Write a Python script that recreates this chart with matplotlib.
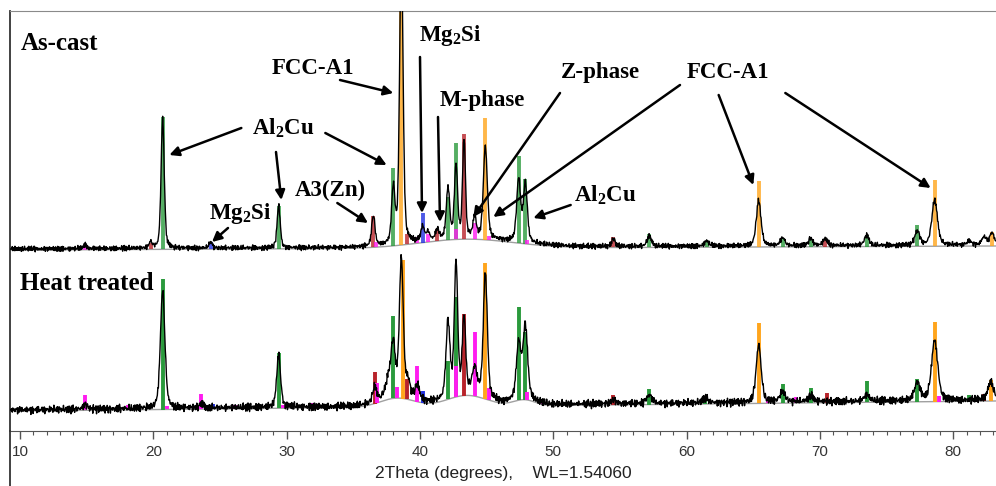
import numpy as np
import matplotlib.pyplot as plt
from matplotlib.ticker import MultipleLocator
from matplotlib.lines import Line2D

plt.rcParams['mathtext.fontset'] = 'custom'
plt.rcParams['mathtext.rm'] = 'Liberation Serif:bold'
plt.rcParams['mathtext.bf'] = 'Liberation Serif:bold'
plt.rcParams['mathtext.it'] = 'Liberation Serif:bold'

# --- as-cast scan: background and fitted reflections (intensity in plot units) ---
cast_base = [181, 185]
cast_hump_pos = [43.5]
cast_hump_h = [9]
cast_hump_w = [3.5]

cast_pos = [14.9, 19.8, 20.7, 24.3, 29.4, 36.5, 38.0, 38.6, 40.2, 40.6, 41.3,
            42.1, 42.7, 43.3, 44.1, 44.9, 47.4, 47.9, 54.5, 57.2, 61.5, 65.4,
            67.2, 69.3, 70.4, 73.5, 77.3, 78.6, 81.2, 82.3, 82.9]
cast_height = [4, 6, 130, 6, 42, 30, 55, 300, 14, 8, 10,
               50, 72, 98, 20, 92, 62, 58, 8, 10, 5, 45,
               8, 7, 7, 10, 14, 45, 4, 8, 12]
cast_fwhm = [0.3, 0.3, 0.28, 0.3, 0.28, 0.3, 0.3, 0.3, 0.3, 0.3, 0.3,
             0.3, 0.28, 0.25, 0.3, 0.35, 0.35, 0.35, 0.3, 0.4, 0.4, 0.42,
             0.4, 0.4, 0.4, 0.4, 0.45, 0.5, 0.4, 0.4, 0.4]

# --- heat treated scan ---
heat_base = [20, 30]
heat_hump_pos = [38.3, 43.5, 47.8]
heat_hump_h = [9, 11, 6]
heat_hump_w = [1.3, 1.5, 0.8]

heat_pos = [14.9, 20.7, 23.6, 29.4, 36.6, 37.7, 38.0, 38.6, 39.1, 39.8, 42.1,
            42.7, 43.3, 44.1, 44.9, 47.4, 47.9, 54.5, 57.2, 61.4, 65.4, 67.2,
            69.3, 73.5, 77.3, 78.6, 82.8]
heat_height = [5, 118, 4, 52, 15, 20, 45, 137, 15, 14, 75,
               132, 75, 25, 125, 55, 72, 4, 8, 5, 57, 10,
               6, 6, 18, 60, 18]
heat_fwhm = [0.4, 0.4, 0.4, 0.35, 0.35, 0.6, 0.35, 0.35, 0.35, 0.4, 0.35,
             0.3, 0.3, 0.45, 0.35, 0.4, 0.4, 0.4, 0.5, 0.5, 0.45, 0.5,
             0.5, 0.5, 0.5, 0.55, 0.5]

# --- reference stick patterns (g: Al2Cu, o: FCC-A1, r/b/m: minor phases) ---
cast_stick_pos = [38.6, 43.3, 20.7, 44.9, 42.7, 47.4, 38.0, 65.4, 78.6, 47.9,
                  29.4, 42.1, 36.5, 40.2, 77.3, 44.1, 82.9, 57.2, 73.5, 41.3,
                  39.0, 54.5, 42.7, 67.2, 69.3, 40.6, 70.4, 24.3, 19.8, 39.8,
                  61.5, 14.9, 36.7, 45.2, 48.0, 26.0]
cast_stick_h = [300, 105, 132, 122, 96, 87, 78, 66, 66, 65,
                43, 43, 31, 30, 21, 16, 14, 13, 12, 12,
                10, 10, 10, 9, 8, 8, 7, 7, 6, 6,
                6, 5, 5, 4, 4, 2]
cast_stick_c = ['o', 'r', 'g', 'o', 'g', 'g', 'g', 'o', 'o', 'g',
                'g', 'g', 'r', 'b', 'g', 'm', 'o', 'g', 'g', 'r',
                'r', 'r', 'm', 'g', 'g', 'm', 'r', 'b', 'r', 'm',
                'g', 'm', 'm', 'm', 'm', 'm']

heat_stick_pos = [38.75, 44.9, 20.7, 42.7, 47.4, 38.0, 43.3, 65.4, 78.6, 47.9,
                  44.1, 29.4, 42.1, 39.8, 36.6, 42.7, 77.3, 73.5, 82.8, 39.0,
                  36.8, 67.2, 57.2, 14.9, 23.6, 69.3, 45.2, 40.2, 38.3, 54.5,
                  70.5, 48.0, 61.4, 82.3, 81.2, 68.2, 78.9, 18.1, 24.5, 66.1,
                  32.0, 26.1, 49.2, 21.0, 29.7, 27.8, 10.8]
heat_stick_h = [139, 136, 131, 100, 93, 82, 82, 80, 80, 68,
                64, 55, 38, 36, 32, 31, 23, 21, 21, 20,
                20, 19, 16, 15, 15, 15, 12, 12, 11, 10,
                10, 8, 8, 7, 6, 6, 6, 5, 5, 5,
                5, 4, 4, 3, 3, 3, 2]
heat_stick_c = ['o', 'o', 'g', 'g', 'g', 'g', 'r', 'o', 'o', 'g',
                'm', 'g', 'g', 'm', 'r', 'm', 'g', 'g', 'o', 'r',
                'm', 'g', 'g', 'm', 'm', 'g', 'm', 'b', 'm', 'r',
                'r', 'm', 'g', 'r', 'g', 'm', 'm', 'm', 'b', 'm',
                'm', 'm', 'm', 'm', 'm', 'b', 'm']

stick_colors = {'g': '#2a9a3c', 'o': '#ffa51c', 'r': '#b8232a',
                'b': '#2030e0', 'm': '#ff1cf0'}

# counting-statistics scatter on the detector signal
jitter_a = [0.3, -0.8, 0.5, 1.0, -0.2, -1.0, 0.7, -0.4, 0.9, -0.6, 0.1, 0.8,
            -0.9, 0.4, -0.3, 0.6, -0.7, 1.0, -0.5, 0.2, -1.0, 0.5, 0.8, -0.3,
            -0.8, 0.3, 0.9, -0.1, -0.6, 0.7, -0.9, 0.2, 0.6, -0.4, 1.0, -0.7,
            0.0, 0.4, -0.5, 0.8, -0.2]
jitter_b = [-0.5, 0.9, -0.2, 0.4, -1.0, 0.6, 0.1, -0.7, 0.8, -0.3, 1.0, -0.9,
            0.2, 0.5, -0.6, 0.7, -0.1, -0.8, 0.3, 0.9, -0.4, 0.0, 0.6, -1.0,
            0.4, -0.2, 0.8, -0.6, 0.1]


def background(x, base, hpos, hh, hw):
    y = base[0] + (base[1] - base[0]) * (x - 10) / 73.0
    for c, a, s in zip(hpos, hh, hw):
        y = y + a * np.exp(-0.5 * ((x - c) / s) ** 2)
    return y


def peaks(x, pos, h, w):
    y = np.zeros_like(x)
    for c, a, f in zip(pos, h, w):
        d = (x - c) / f
        y += a * (0.6 * np.exp(-4 * np.log(2) * d ** 2) + 0.4 / (1 + 4 * d ** 2))
    return y


tt = np.arange(9.3, 83.2, 0.04)
n = len(tt)
scatter = 0.6 * np.resize(jitter_a, n) + 0.4 * np.resize(jitter_b, n)

cast_bg = background(tt, cast_base, cast_hump_pos, cast_hump_h, cast_hump_w)
heat_bg = background(tt, heat_base, heat_hump_pos, heat_hump_h, heat_hump_w)
cast_trace = cast_bg + 1 + peaks(tt, cast_pos, cast_height, cast_fwhm) + 3.2 * scatter
heat_trace = heat_bg + 1 + peaks(tt, heat_pos, heat_height, heat_fwhm) + 4.8 * scatter[::-1]

fig = plt.figure(figsize=(9.96, 4.86), dpi=100)
ax = fig.add_axes([10 / 996, 55 / 486, 986 / 996, 420 / 486])

for spos, sh, sc, base, hp, hh, hw, alpha in [
        (cast_stick_pos, cast_stick_h, cast_stick_c, cast_base, cast_hump_pos, cast_hump_h, cast_hump_w, 0.8),
        (heat_stick_pos, heat_stick_h, heat_stick_c, heat_base, heat_hump_pos, heat_hump_h, heat_hump_w, 1.0)]:
    spos = np.array(spos)
    y0 = background(spos, base, hp, hh, hw)
    ax.vlines(spos, y0, y0 + np.array(sh), colors=[stick_colors[c] for c in sc],
              linewidth=2.8, alpha=alpha, zorder=2)

ax.plot(tt, cast_bg, color='#a0a0a0', lw=1.0, zorder=1)
ax.plot(tt, heat_bg, color='#a0a0a0', lw=1.0, zorder=1)
ax.plot(tt, cast_trace, color='black', lw=1.0, zorder=3)
ax.plot(tt, heat_trace, color='black', lw=1.0, zorder=3)

ax.set_xlim(9.25, 83.2)
ax.set_ylim(0, 420)
ax.set_yticks([])
ax.xaxis.set_major_locator(MultipleLocator(10))
ax.xaxis.set_minor_locator(MultipleLocator(1))
ax.tick_params(axis='x', which='major', length=6, width=1.0, color='#555555',
               labelsize=11, labelcolor='#333333', pad=4)
ax.tick_params(axis='x', which='minor', length=3, width=0.8, color='#555555')
for lab in ax.get_xticklabels():
    lab.set_fontfamily('Liberation Sans')
ax.set_xlabel('2Theta (degrees),    WL=1.54060', fontfamily='Liberation Sans',
              fontsize=12.5, color='#222222', labelpad=5)

ax.spines['right'].set_visible(False)
ax.spines['top'].set_color('#8a8a8a')
ax.spines['bottom'].set_color('#555555')
ax.spines['left'].set_color('#333333')
ax.spines['left'].set_linewidth(1.3)
fig.add_artist(Line2D([10 / 996, 10 / 996], [0, 55 / 486], transform=fig.transFigure,
                      color='#333333', lw=1.3))

serif = dict(fontfamily='Liberation Serif', fontweight='bold', color='black')
ax.text(10.05, 388, 'As-cast', fontsize=18, ha='left', va='center', **serif)
ax.text(10.0, 148, 'Heat treated', fontsize=18, ha='left', va='center', **serif)

arrow = dict(arrowstyle='-|>', color='black', lw=1.8, mutation_scale=14,
             shrinkA=0, shrinkB=0)

labels = [
    ('FCC-A1', (32.0, 363), [((34.0, 351), (38.0, 338))]),
    (r'Mg$_2$Si', (42.3, 396), [((40.0, 374), (40.15, 218))]),
    ('M-phase', (44.7, 331), [((41.35, 314), (41.5, 209))]),
    ('Z-phase', (53.5, 359), [((50.5, 338), (44.0, 214))]),
    ('FCC-A1', (63.1, 359), [((59.5, 346), (45.5, 214)),
                             ((62.4, 336), (65.0, 246)),
                             ((67.4, 338), (78.3, 243))]),
    (r'Al$_2$Cu', (29.7, 303), [((26.6, 303), (21.2, 276)),
                                ((29.2, 279), (29.6, 231)),
                                ((32.9, 298), (37.5, 266))]),
    (r'Mg$_2$Si', (26.5, 218), [((25.6, 203), (24.4, 189))]),
    ('A3(Zn)', (33.3, 241), [((33.8, 228), (36.1, 208))]),
    (r'Al$_2$Cu', (53.9, 236), [((51.3, 226), (48.5, 213))]),
]
for text, xy, arrows in labels:
    ax.text(xy[0], xy[1], text, fontsize=16.5, ha='center', va='center', zorder=5, **serif)
    for start, tip in arrows:
        ax.annotate('', xy=tip, xytext=start, arrowprops=arrow, zorder=5)

fig.savefig('out.png', dpi=100)
